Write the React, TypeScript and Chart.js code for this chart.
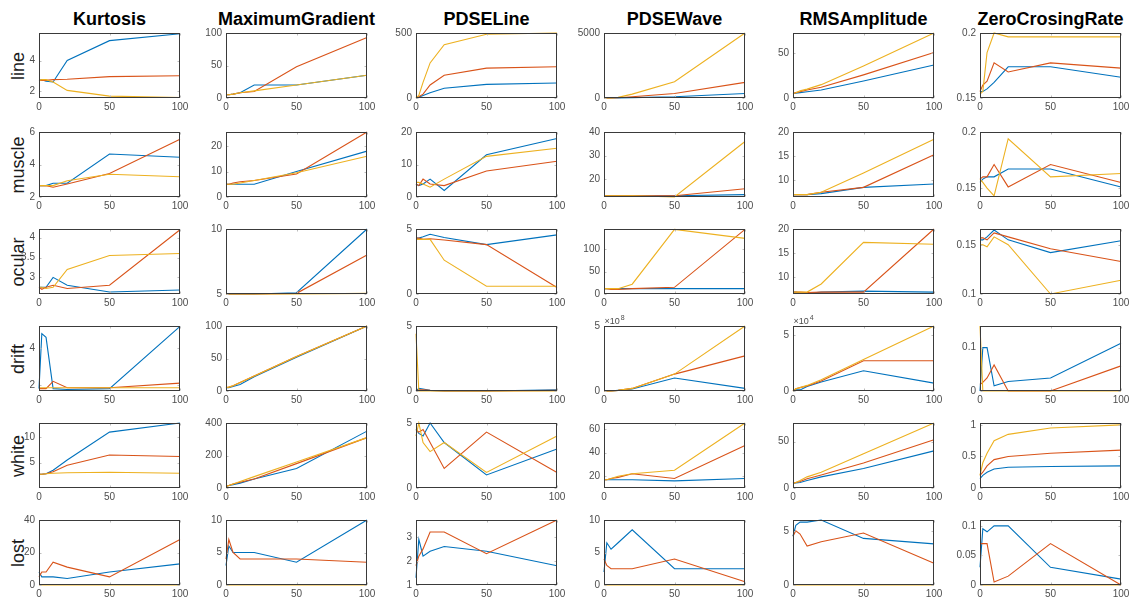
import React, { useEffect, useRef } from "react";
import { Chart, registerables } from "chart.js";

Chart.register(...registerables);

const X = [0, 2, 5, 10, 20, 50, 100];
const FEATURES = ["Kurtosis", "MaximumGradient", "PDSELine", "PDSEWave", "RMSAmplitude", "ZeroCrosingRate"];
const ARTIFACTS = ["line", "muscle", "ocular", "drift", "white", "lost"];

// ---- line ----
const lineBlue = [
  [2.7, 2.75, 2.65, 2.6, 4.0, 5.3, 5.75],
  [5, 5, 6, 8, 20, 20, 35],
  [0, 5, 20, 40, 75, 105, 115],
  [0, 0, 0, 5, 30, 100, 350],
  [5, 5.5, 6, 7, 9, 19, 37],
  [0.155, 0.155, 0.157, 0.162, 0.174, 0.174, 0.166],
];
const lineOrange = [
  [2.7, 2.7, 2.7, 2.75, 2.78, 2.95, 3.0],
  [5, 5, 6, 8, 10, 48, 93],
  [0, 10, 30, 100, 175, 230, 240],
  [0, 0, 5, 20, 100, 350, 1200],
  [5, 6, 7, 9, 12, 26, 51],
  [0.155, 0.16, 0.163, 0.177, 0.17, 0.177, 0.173],
];
const lineYellow = [
  [2.7, 2.75, 2.75, 2.6, 2.05, 1.67, 1.58],
  [5, 5, 6, 8, 11, 20, 35],
  [0, 20, 120, 270, 410, 490, 500],
  [0, 0, 10, 50, 300, 1250, 5000],
  [5, 6, 8, 10, 15, 36, 73],
  [0.153, 0.155, 0.185, 0.2, 0.197, 0.197, 0.197],
];
// ---- muscle ----
const muscleBlue = [
  [2.7, 2.7, 2.7, 2.85, 2.85, 4.65, 4.45],
  [5, 5, 5, 5, 5, 10, 18],
  [4, 3.5, 4, 5.5, 2, 13, 18],
  [13, 13, 13, 13, 13, 13, 13.5],
  [7, 7, 7, 7, 7.2, 8.5, 9.2],
  [0.155, 0.158, 0.16, 0.16, 0.167, 0.167, 0.151],
];
const muscleOrange = [
  [2.7, 2.7, 2.7, 2.6, 2.8, 3.45, 5.55],
  [5, 5, 5.5, 6, 6.5, 9, 25.5],
  [4, 3.5, 5.5, 4, 3.5, 8, 11],
  [13, 13, 13, 13, 13, 13, 16],
  [7, 7, 7, 7, 7.5, 8.5, 15.3],
  [0.158, 0.16, 0.16, 0.171, 0.151, 0.171, 0.155],
];
const muscleYellow = [
  [2.7, 2.7, 2.7, 2.7, 3.0, 3.4, 3.25],
  [5, 5, 5, 5.5, 6.5, 9.5, 16],
  [4.5, 4.5, 4, 3, 5.5, 12.5, 15],
  [13, 13, 13, 13, 13, 12.5, 36],
  [7, 7, 7, 7, 7.5, 11.5, 18.5],
  [0.158, 0.155, 0.15, 0.143, 0.194, 0.16, 0.163],
];
// ---- ocular ----
const ocularBlue = [
  [2.75, 2.75, 2.75, 3.0, 2.8, 2.63, 2.68],
  [5, 5, 5, 5, 5, 5.1, 10],
  [4.3, 4.3, 4.4, 4.6, 4.35, 3.8, 4.55],
  [12, 12, 12, 12, 12, 12, 12],
  [6.8, 6.8, 6.6, 6.5, 6.8, 7.0, 6.8],
  [0.155, 0.155, 0.158, 0.165, 0.155, 0.142, 0.154],
];
const ocularOrange = [
  [2.75, 2.7, 2.75, 2.8, 2.72, 2.8, 4.2],
  [5, 5, 5, 5, 5, 5.05, 8],
  [4.3, 4.3, 4.2, 4.25, 4.15, 3.8, 0.5],
  [12, 12, 10, 10, 12, 15, 145],
  [6.8, 6.8, 6.8, 6.7, 6.8, 6.8, 20],
  [0.157, 0.157, 0.155, 0.162, 0.158, 0.146, 0.133],
];
const ocularYellow = [
  [2.75, 2.75, 2.72, 2.75, 3.2, 3.55, 3.6],
  [5, 5, 5, 5, 5, 5, 5.05],
  [4.2, 4.2, 4.2, 4.2, 2.6, 0.6, 0.6],
  [12, 12, 12, 12, 22, 145, 125],
  [6.8, 6.8, 6.8, 6.8, 8.5, 17.2, 16.8],
  [0.15, 0.15, 0.148, 0.158, 0.15, 0.1, 0.114],
];
// ---- drift ----
const driftBlue = [
  [1.8, 4.8, 4.6, 1.8, 1.75, 1.8, 5.2],
  [5, 5, 7, 10, 22, 52, 100],
  [0, 0.2, 0.15, 0.05, 0, 0, 0.1],
  [0, 0, 0, 0.05, 0.15, 1.0, 0.2],
  [0, 0.1, 0.1, 0.4, 0.8, 1.8, 0.7],
  [0, 0.1, 0.1, 0.012, 0.022, 0.03, 0.11],
];
const driftOrange = [
  [1.8, 1.8, 1.8, 2.2, 1.85, 1.85, 2.1],
  [5, 6, 8, 13, 23, 53, 100],
  [0, 0.1, 0.1, 0.05, 0, 0, 0.05],
  [0, 0, 0, 0.05, 0.2, 1.3, 2.7],
  [0, 0.2, 0.3, 0.45, 0.9, 2.7, 2.7],
  [0.015, 0.02, 0.03, 0.06, 0, 0, 0.058],
];
const driftYellow = [
  [1.85, 1.85, 1.85, 1.85, 1.85, 1.85, 1.85],
  [5, 6, 8, 13, 23, 53, 100],
  [4.4, 0, 0, 0, 0, 0, 0],
  [0, 0, 0, 0.05, 0.2, 1.3, 5.0],
  [0, 0.2, 0.3, 0.5, 1.0, 2.8, 5.8],
  [0.15, 0, 0, 0, 0, 0, 0],
];
// ---- white ----
const whiteBlue = [
  [2.7, 2.7, 2.8, 3.5, 5.5, 11, 12.8],
  [10, 15, 20, 30, 55, 120, 350],
  [4.5, 4.2, 4.0, 5.0, 3.5, 1.0, 3.0],
  [17, 17, 17, 17, 17, 16, 18],
  [5, 5.5, 6, 8, 12, 21, 40],
  [0.15, 0.2, 0.25, 0.3, 0.33, 0.34, 0.35],
];
const whiteOrange = [
  [2.7, 2.7, 2.8, 3.2, 4.5, 6.5, 6.2],
  [10, 15, 25, 35, 55, 150, 310],
  [4.5, 4.3, 4.5, 3.5, 1.5, 4.3, 1.2],
  [17, 17, 18, 19, 22, 18, 46],
  [5, 6, 7, 10, 14, 27, 52],
  [0.2, 0.25, 0.35, 0.45, 0.5, 0.55, 0.6],
];
const whiteYellow = [
  [2.7, 2.7, 2.8, 2.9, 3.0, 3.1, 2.9],
  [10, 15, 25, 40, 70, 160, 310],
  [4.0, 5.0, 3.5, 2.8, 3.5, 1.2, 4.0],
  [17, 17, 18, 20, 22, 25, 65],
  [5, 6, 8, 12, 17, 37, 70],
  [0.2, 0.4, 0.55, 0.75, 0.85, 0.95, 1.0],
];
// ---- lost ----
const lostBlue = [
  [8, 5, 5, 5, 4, 8, 13],
  [3, 6, 5, 5, 5, 3.5, 10],
  [1.3, 2.9, 2.2, 2.4, 2.6, 2.4, 1.8],
  [2, 6.5, 5.5, 6.5, 8.5, 2.5, 2.5],
  [4.5, 5.5, 5.8, 5.8, 6.0, 4.3, 3.8],
  [0.03, 0.095, 0.09, 0.1, 0.1, 0.03, 0.01],
];
const lostOrange = [
  [5, 8, 8, 14, 11, 5, 28],
  [4, 7, 5, 4, 4, 4, 3.5],
  [1.8, 2.2, 2.5, 3.2, 3.2, 2.3, 3.7],
  [4, 3, 2.5, 2.5, 2.5, 4, 0.5],
  [4.5, 5.0, 4.7, 3.6, 4.0, 4.8, 2.0],
  [0.07, 0.07, 0.07, 0.005, 0.015, 0.07, 0],
];
const lostYellow = [
  [0, 0, 0, 0, 0, 0, 0],
  [0, 0, 0, 0, 0, 0, 0],
  [0, 0, 0, 0, 0, 0, 0],
  [0, 0, 0, 0, 0, 0, 0],
  [0, 0, 0, 0, 0, 0, 0],
  [0, 0, 0, 0, 0, 0, 0],
];

const BLUE = [lineBlue, muscleBlue, ocularBlue, driftBlue, whiteBlue, lostBlue];
const ORANGE = [lineOrange, muscleOrange, ocularOrange, driftOrange, whiteOrange, lostOrange];
const YELLOW = [lineYellow, muscleYellow, ocularYellow, driftYellow, whiteYellow, lostYellow];

// y-axis settings per row (one entry per feature column)
const Y_MIN = [
  [1.55, 0, 0, 0, 0, 0.15],
  [2, 0, 0, 12.5, 6.5, 0.142],
  [2.58, 5, 0, 0, 6.4, 0.1],
  [1.67, 0, 0, 0, 0, 0],
  [0, 0, 0, 10, 0, 0],
  [0, 0, 1, 0, 0, 0],
];
const Y_MAX = [
  [5.8, 100, 500, 5000, 73, 0.2],
  [6, 25.5, 20, 40, 20, 0.2],
  [4.22, 10, 5, 146, 20, 0.166],
  [5.22, 100, 5, 5, 5.8, 0.15],
  [12.8, 400, 5, 65, 70, 1.03],
  [40, 10, 3.7, 10, 6, 0.11],
];
const Y_TICKS = [
  [[2, 4], [0, 50, 100], [0, 500], [0, 5000], [0, 50], [0.15, 0.2]],
  [[2, 4, 6], [0, 10, 20], [0, 10, 20], [20, 30, 40], [10, 15, 20], [0.15, 0.2]],
  [[3, 3.5, 4], [5, 10], [0, 5], [0, 50, 100], [10, 15, 20], [0.1, 0.15]],
  [[2, 4], [0, 50, 100], [0, 5], [0, 5], [0, 5], [0, 0.1]],
  [[5, 10], [0, 200, 400], [0, 5], [20, 40, 60], [0, 50], [0, 0.5, 1]],
  [[0, 20, 40], [0, 5, 10], [1, 2, 3], [0, 5, 10], [0, 5], [0, 0.05, 0.1]],
];
const X_TICKS = [0, 50, 100];
const EXPONENTS = [
  ["", "", "", "", "", ""],
  ["", "", "", "", "", ""],
  ["", "", "", "", "", ""],
  ["", "", "", "8", "4", ""],
  ["", "", "", "", "", ""],
  ["", "", "", "", "", ""],
];

// layout
const COL_LEFT = [39, 226, 416, 604, 793, 980];
const ROW_TOP = [33, 132, 229, 326, 423, 520];
const PW = 141;
const PH = 65;
const PAD_L = 34;
const PAD_T = 12;
const PAD_R = 12;
const PAD_B = 16;

const COLORS = ["#0072BD", "#D95319", "#EDB120"];
const FONT = "'Liberation Sans', Arial, Helvetica, sans-serif";

const framePlugin = {
  id: "frame",
  afterDraw(chart: any, _args: any, opts: any) {
    const { ctx, chartArea } = chart;
    const l = Math.round(chartArea.left) + 0.5;
    const t = Math.round(chartArea.top) + 0.5;
    const r = Math.round(chartArea.right) - 0.5;
    const b = Math.round(chartArea.bottom) - 0.5;
    ctx.save();
    ctx.strokeStyle = "#bdbdbd";
    ctx.lineWidth = 1;
    const xs = chart.scales.x;
    const ys = chart.scales.y;
    ctx.beginPath();
    xs.ticks.forEach((tk: any) => {
      const px = Math.round(xs.getPixelForValue(tk.value)) + 0.5;
      ctx.moveTo(px, b);
      ctx.lineTo(px, b - 2);
      ctx.moveTo(px, t);
      ctx.lineTo(px, t + 2);
    });
    ys.ticks.forEach((tk: any) => {
      const py = Math.round(ys.getPixelForValue(tk.value)) + 0.5;
      ctx.moveTo(l, py);
      ctx.lineTo(l + 2, py);
      ctx.moveTo(r, py);
      ctx.lineTo(r - 2, py);
    });
    ctx.stroke();
    ctx.strokeStyle = "#3a3a3a";
    ctx.strokeRect(l, t, r - l, b - t);
    if (opts && opts.exp) {
      ctx.fillStyle = "#4d4d4d";
      ctx.font = `9px ${FONT}`;
      ctx.textBaseline = "alphabetic";
      ctx.textAlign = "left";
      ctx.fillText("\u00d710", l, t - 3);
      const w = ctx.measureText("\u00d710").width;
      ctx.font = `7px ${FONT}`;
      ctx.fillText(opts.exp, l + w + 1, t - 7);
    }
    ctx.restore();
  },
};

function Panel({ r, c }: { r: number; c: number }) {
  const ref = useRef<HTMLCanvasElement>(null);
  useEffect(() => {
    if (!ref.current) return;
    const series = [BLUE[r][c], ORANGE[r][c], YELLOW[r][c]];
    const yt = Y_TICKS[r][c];
    const chart = new Chart(ref.current, {
      type: "line",
      data: {
        datasets: series.map((vals, i) => ({
          data: X.map((x, k) => ({ x, y: vals[k] })),
          borderColor: COLORS[i],
          backgroundColor: COLORS[i],
          borderWidth: 1.1,
          pointRadius: 0,
          tension: 0,
          clip: 2,
          order: 2 - i,
        })),
      },
      options: {
        animation: false,
        responsive: false,
        maintainAspectRatio: false,
        layout: { padding: { left: 0, top: PAD_T, right: PAD_R, bottom: 0 } },
        plugins: {
          legend: { display: false },
          tooltip: { enabled: false },
          frame: { exp: EXPONENTS[r][c] },
        } as any,
        scales: {
          x: {
            type: "linear",
            min: 0,
            max: 100,
            grid: { display: false, drawTicks: false },
            border: { display: false },
            afterBuildTicks: (s: any) => {
              s.ticks = X_TICKS.map((v) => ({ value: v }));
            },
            afterFit: (s: any) => {
              s.height = PAD_B;
            },
            ticks: {
              padding: 3,
              maxRotation: 0,
              autoSkip: false,
              color: "#4d4d4d",
              font: { family: FONT, size: 10 },
              callback: (v: any) => String(v),
            },
          },
          y: {
            type: "linear",
            min: Y_MIN[r][c],
            max: Y_MAX[r][c],
            grid: { display: false, drawTicks: false },
            border: { display: false },
            afterBuildTicks: (s: any) => {
              s.ticks = yt.map((v) => ({ value: v }));
            },
            afterFit: (s: any) => {
              s.width = PAD_L;
            },
            ticks: {
              padding: 4,
              autoSkip: false,
              color: "#4d4d4d",
              font: { family: FONT, size: 10 },
              callback: (v: any) => String(v),
            },
          },
        },
      },
      plugins: [framePlugin as any],
    });
    return () => chart.destroy();
  }, [r, c]);
  const W = PW + PAD_L + PAD_R;
  const H = PH + PAD_T + PAD_B;
  return (
    <canvas
      ref={ref}
      width={W}
      height={H}
      style={{
        position: "absolute",
        left: COL_LEFT[c] - PAD_L,
        top: ROW_TOP[r] - PAD_T,
        width: W,
        height: H,
      }}
    />
  );
}

export default function App() {
  return (
    <div
      style={{
        position: "absolute",
        left: 0,
        top: 0,
        width: 1135,
        height: 601,
        background: "#ffffff",
        overflow: "hidden",
        fontFamily: FONT,
      }}
    >
      {FEATURES.map((f, c) => (
        <div
          key={f}
          style={{
            position: "absolute",
            left: COL_LEFT[c] - 40,
            width: PW + 80,
            top: 8,
            textAlign: "center",
            fontWeight: "bold",
            fontSize: 18,
            lineHeight: "22px",
            color: "#000",
          }}
        >
          {f}
        </div>
      ))}
      {ARTIFACTS.map((a, r) => (
        <div
          key={a}
          style={{
            position: "absolute",
            left: 18 - 40,
            top: ROW_TOP[r] + PH / 2 - 11,
            width: 80,
            height: 22,
            lineHeight: "22px",
            textAlign: "center",
            fontSize: 18,
            color: "#1a1a1a",
            transform: "rotate(-90deg)",
          }}
        >
          {a}
        </div>
      ))}
      {ARTIFACTS.map((a, r) =>
        FEATURES.map((f, c) => <Panel key={a + f} r={r} c={c} />)
      )}
    </div>
  );
}
